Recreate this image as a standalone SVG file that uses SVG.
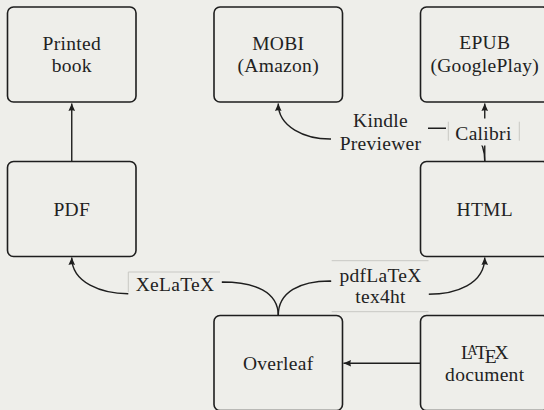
<svg xmlns="http://www.w3.org/2000/svg" width="544" height="410" viewBox="0 0 544 410">
<defs>
<style>
.bg{fill:#eeeeea}
.node rect{fill:none;stroke:#1e1e1e;stroke-width:1.6}
text{font-family:"Liberation Serif","Times New Roman",serif;font-size:19.5px;fill:#222;letter-spacing:0.3px;text-anchor:middle}
.edge{fill:none;stroke:#1e1e1e;stroke-width:1.4}
.lblbg{fill:#eeeeea;stroke:none}
.faint{stroke:#c8c8c4;stroke-width:1;fill:none}
</style>
<marker id="ah" markerUnits="userSpaceOnUse" markerWidth="12" markerHeight="10" refX="0" refY="0" viewBox="-8 -5 10 10" orient="auto" overflow="visible">
<path d="M0,0 L-7.5,-3.3 Q-5.8,0 -7.5,3.3 Z" fill="#1e1e1e"/>
</marker>
</defs>
<rect class="bg" x="0" y="0" width="544" height="410"/>

<g id="connectors">
<path class="edge" d="M71.75,161.5 L71.75,103.5" marker-end="url(#ah)"/>
<path class="edge" d="M484.75,161.5 L484.75,103.5" marker-end="url(#ah)"/>
<path class="edge" d="M484.75,161.5 C484.75,140 475,128.3 446,128.3 L429,128.3 C400,128.3 370,139 330,139 C305,139 278.25,127 278.25,103.5" marker-end="url(#ah)"/>
<path class="edge" d="M278.25,315.5 C278.25,292 255,282 222,282 L128,293.7 C102,293.7 71.75,283 71.75,257.5" marker-end="url(#ah)"/>
<path class="edge" d="M278.25,315.5 C278.25,292 300,281 330,281 L428,294.3 C456,294.3 484.75,284 484.75,257.5" marker-end="url(#ah)"/>
<path class="edge" d="M420.5,363.3 L343.5,363.3" marker-end="url(#ah)"/>
</g>

<g id="edge-labels">
<g id="label-kindle">
<rect class="lblbg" x="331" y="108" width="97" height="49"/>
<text x="380.5" y="127">Kindle</text>
<text x="380.5" y="150">Previewer</text>
</g>
<g id="label-calibri">
<rect class="lblbg" x="446" y="118.5" width="75" height="27"/>
<line class="faint" x1="448.3" y1="121.7" x2="448.3" y2="140.7"/>
<line class="faint" x1="519.3" y1="121.7" x2="519.3" y2="140.7"/>
<text x="483.5" y="140">Calibri</text>
</g>
<g id="label-xelatex">
<rect class="lblbg" x="128.3" y="272" width="93.5" height="28"/>
<line class="faint" x1="128.3" y1="272" x2="220" y2="272"/>
<line class="faint" x1="128.3" y1="272" x2="128.3" y2="292"/>
<text x="175" y="291.3">XeLaTeX</text>
</g>
<g id="label-pdflatex">
<rect class="lblbg" x="331.2" y="260.7" width="97.6" height="51"/>
<line class="faint" x1="331.7" y1="260.7" x2="428.5" y2="260.7"/>
<line class="faint" x1="331.7" y1="311.7" x2="428.5" y2="311.7"/>
<text x="380.5" y="282.3">pdfLaTeX</text>
<text x="380.5" y="303.3">tex4ht</text>
</g>
</g>

<g id="node-printed" class="node">
<rect x="7.5" y="7" width="128.5" height="95" rx="6"/>
<text x="71.75" y="50">Printed</text>
<text x="71.75" y="72">book</text>
</g>
<g id="node-mobi" class="node">
<rect x="214" y="7" width="128.5" height="95" rx="6"/>
<text x="278.25" y="50">MOBI</text>
<text x="278.25" y="72">(Amazon)</text>
</g>
<g id="node-epub" class="node">
<rect x="420.5" y="7" width="128.5" height="95" rx="6"/>
<text x="484.75" y="49">EPUB</text>
<text x="484.75" y="72">(GooglePlay)</text>
</g>
<g id="node-pdf" class="node">
<rect x="7.5" y="161.5" width="128.5" height="95" rx="6"/>
<text x="71.75" y="215.5">PDF</text>
</g>
<g id="node-html" class="node">
<rect x="420.5" y="161.5" width="128.5" height="95" rx="6"/>
<text x="484.75" y="215.5">HTML</text>
</g>
<g id="node-overleaf" class="node">
<rect x="214" y="315.5" width="128.5" height="95" rx="6"/>
<text x="278.25" y="370">Overleaf</text>
</g>
<g id="node-latex" class="node">
<rect x="420.5" y="315.5" width="128.5" height="95" rx="6"/>
<text x="484.75" y="359" style="letter-spacing:0">L<tspan dx="-5.8" dy="-4.5" font-size="14">A</tspan><tspan dx="-2.1" dy="4.5">T</tspan><tspan dx="-2.3" dy="4.4">E</tspan><tspan dx="-2.3" dy="-4.4">X</tspan></text>
<text x="484.75" y="381">document</text>
</g>
</svg>
